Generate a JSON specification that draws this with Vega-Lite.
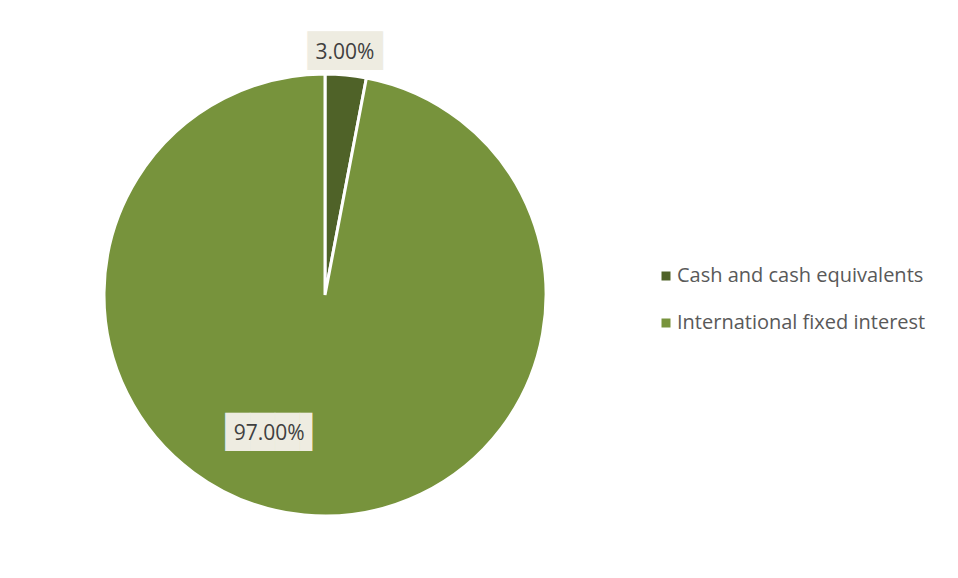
{
  "$schema": "https://vega.github.io/schema/vega-lite/v6.json",
  "width": 642,
  "height": 576,
  "autosize": {"type": "none"},
  "padding": {"left": 4, "top": 7, "right": 312, "bottom": 0},
  "background": "white",
  "view": {"stroke": null},
  "data": {
    "values": [
      {"category": "Cash and cash equivalents", "value": 0.03},
      {"category": "International fixed interest", "value": 0.97}
    ]
  },
  "encoding": {
    "theta": {"field": "value", "type": "quantitative", "stack": true}
  },
  "layer": [
    {
      "mark": {"type": "arc", "outerRadius": 221, "stroke": "white", "strokeWidth": 3},
      "encoding": {
        "color": {
          "field": "category",
          "type": "nominal",
          "scale": {"domain": ["Cash and cash equivalents", "International fixed interest"], "range": ["#4f6228", "#77933c"]},
          "legend": {
            "orient": "none",
            "legendX": 652,
            "legendY": 259,
            "title": null,
            "symbolType": "square",
            "symbolSize": 81,
            "symbolStrokeWidth": 0,
            "labelFont": "Open Sans",
            "labelFontSize": 20,
            "labelColor": "#595959",
            "labelLimit": 400,
            "labelOffset": 1,
            "rowPadding": 27
          }
        }
      }
    },
    {
      "mark": {"type": "text", "radius": 246, "thetaOffset": -0.013, "font": "DejaVu Sans", "fontSize": 32.6, "baseline": "middle", "align": "center", "dy": 2, "color": "#eeece1"},
      "encoding": {
        "text": {"condition": {"test": "datum.category == 'Cash and cash equivalents'", "value": "███"}, "value": ""}
      }
    },
    {
      "mark": {"type": "text", "radius": 148, "thetaOffset": 0.293, "font": "DejaVu Sans", "fontSize": 32.2, "baseline": "middle", "align": "center", "dx": 6, "dy": 1, "color": "#eeece1"},
      "encoding": {
        "text": {"condition": {"test": "datum.category == 'International fixed interest'", "value": "███▌"}, "value": ""}
      }
    },
    {
      "mark": {"type": "text", "radius": 246, "thetaOffset": -0.013, "font": "Open Sans", "fontSize": 21, "baseline": "middle", "align": "center", "dy": 3, "color": "#404040"},
      "encoding": {
        "text": {"condition": {"test": "datum.category == 'Cash and cash equivalents'", "field": "value", "format": ".2%"}, "value": ""}
      }
    },
    {
      "mark": {"type": "text", "radius": 148, "thetaOffset": 0.293, "font": "Open Sans", "fontSize": 21, "baseline": "middle", "align": "center", "dy": 2, "color": "#404040"},
      "encoding": {
        "text": {"condition": {"test": "datum.category == 'International fixed interest'", "field": "value", "format": ".2%"}, "value": ""}
      }
    }
  ]
}
